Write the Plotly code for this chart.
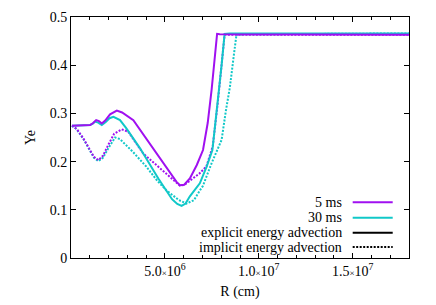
import plotly.graph_objects as go

# R in units of 1e6 cm
r_5ms_exp = [0.05, 0.49, 1.02, 1.18, 1.34, 1.49, 1.64, 1.82, 2.08, 2.44, 2.72, 3.32, 4.20, 5.00, 5.62, 5.80, 6.03, 6.33, 6.70, 7.03, 7.28, 7.49, 7.65, 7.78, 7.92, 18.0]
ye_5ms_exp = [0.2745, 0.275, 0.276, 0.280, 0.286, 0.284, 0.279, 0.285, 0.298, 0.306, 0.302, 0.286, 0.236, 0.192, 0.158, 0.151, 0.152, 0.165, 0.193, 0.224, 0.28, 0.35, 0.41, 0.465, 0.464, 0.463]

r_30ms_exp = [0.05, 0.49, 1.02, 1.18, 1.28, 1.45, 1.64, 1.85, 2.05, 2.26, 2.61, 2.93, 3.67, 4.65, 5.38, 5.66, 5.89, 6.10, 6.33, 6.86, 7.23, 7.53, 7.81, 8.02, 8.18, 8.45, 18.0]
ye_30ms_exp = [0.2745, 0.275, 0.276, 0.279, 0.283, 0.281, 0.276, 0.282, 0.290, 0.293, 0.286, 0.270, 0.228, 0.165, 0.122, 0.112, 0.108, 0.113, 0.128, 0.155, 0.19, 0.224, 0.32, 0.40, 0.465, 0.466, 0.466]

r_5ms_imp = [0.05, 0.30, 0.66, 1.02, 1.22, 1.46, 1.70, 1.99, 2.30, 2.70, 3.05, 3.84, 4.60, 5.80, 6.05, 6.50, 6.86, 7.21, 7.55, 7.81, 8.02, 8.18, 18.0]
ye_5ms_imp = [0.2745, 0.268, 0.248, 0.224, 0.210, 0.203, 0.212, 0.235, 0.258, 0.267, 0.262, 0.217, 0.191, 0.150, 0.152, 0.165, 0.176, 0.19, 0.232, 0.32, 0.40, 0.463, 0.463]

r_30ms_imp = [0.05, 0.30, 0.66, 1.02, 1.22, 1.46, 1.70, 1.99, 2.35, 2.60, 3.30, 4.00, 4.60, 5.09, 5.42, 5.75, 6.15, 6.55, 6.86, 7.03, 7.48, 8.02, 8.25, 8.46, 8.67, 8.81, 9.20, 18.0]
ye_30ms_imp = [0.2745, 0.267, 0.247, 0.222, 0.208, 0.201, 0.208, 0.228, 0.250, 0.247, 0.220, 0.190, 0.160, 0.140, 0.130, 0.120, 0.113, 0.120, 0.140, 0.150, 0.196, 0.245, 0.306, 0.354, 0.42, 0.463, 0.464, 0.466]

x_tickvals = [5e6, 1e7, 1.5e7]
x_ticktext = ["5.0<span style='font-size:9px'>×</span>10<sup>6</sup>",
              "1.0<span style='font-size:9px'>×</span>10<sup>7</sup>",
              "1.5<span style='font-size:9px'>×</span>10<sup>7</sup>"]
y_tickvals = [0, 0.1, 0.2, 0.3, 0.4, 0.5]
y_ticktext = ["0", "0.1", "0.2", "0.3", "0.4", "0.5"]

legend_labels = ["5 ms", "30 ms", "explicit energy advection", "implicit energy advection"]

C5 = "#a010f0"
C30 = "#10c8c8"
DOT = "2px,1.5px"

def sc(r):
    return [v * 1e6 for v in r]

fig = go.Figure()
fig.add_trace(go.Scatter(x=sc(r_30ms_imp), y=ye_30ms_imp, mode="lines", line=dict(color=C30, width=2, dash=DOT)))
fig.add_trace(go.Scatter(x=sc(r_5ms_imp), y=ye_5ms_imp, mode="lines", line=dict(color=C5, width=2, dash=DOT)))
fig.add_trace(go.Scatter(x=sc(r_30ms_exp), y=ye_30ms_exp, mode="lines", line=dict(color=C30, width=2)))
fig.add_trace(go.Scatter(x=sc(r_5ms_exp), y=ye_5ms_exp, mode="lines", line=dict(color=C5, width=2)))

font = dict(family="Liberation Serif", size=14, color="black")

# manual legend (text right-aligned, sample line to its right)
leg_y = [0.231, 0.167, 0.105, 0.0456]
leg_style = [dict(color=C5, width=2), dict(color=C30, width=2),
             dict(color="black", width=2), dict(color="black", width=2, dash=DOT)]
for lab, yy, st in zip(legend_labels, leg_y, leg_style):
    fig.add_annotation(x=0.8077, y=yy, xref="paper", yref="paper", text=lab,
                       showarrow=False, xanchor="right", yanchor="middle", font=font)
    fig.add_shape(type="line", xref="paper", yref="paper", x0=0.8334, x1=0.9518,
                  y0=yy, y1=yy, line=st)

fig.update_layout(
    width=436, height=305,
    margin=dict(l=71, r=27, t=17, b=47, autoexpand=False),
    paper_bgcolor="white", plot_bgcolor="white",
    showlegend=False,
    font=font,
)
fig.update_xaxes(range=[0, 1.8e7], tickvals=x_tickvals, ticktext=x_ticktext, automargin=False,
                 ticks="inside", ticklen=5, tickcolor="black", showgrid=False, zeroline=False,
                 showline=True, linecolor="black", linewidth=1, mirror="ticks",
                 minor=dict(dtick=1e6, tick0=0, ticks="inside", ticklen=3, tickcolor="black", showgrid=False),
                 title=dict(text="R (cm)", font=font, standoff=8), tickfont=font)
fig.update_yaxes(range=[0, 0.5], tickvals=y_tickvals, ticktext=y_ticktext, automargin=False,
                 ticks="inside", ticklen=5, tickcolor="black", showgrid=False, zeroline=False,
                 showline=True, linecolor="black", linewidth=1, mirror="ticks",
                 title=dict(text="Ye", font=font, standoff=10), tickfont=font)

fig.write_html("out.html", config={"displayModeBar": False},
               post_script="document.body.style.margin='0';document.body.style.overflow='hidden';")
